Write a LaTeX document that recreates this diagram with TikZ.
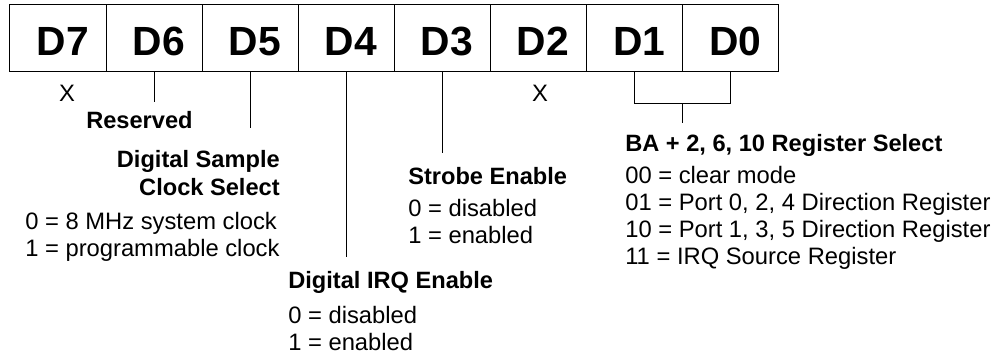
\documentclass[tikz,border=0pt]{standalone}
\usepackage{fontspec}
\setmainfont{Liberation Sans}
\usetikzlibrary{positioning}

\begin{document}
\begin{tikzpicture}[
    x=0.025cm, y=-0.025cm,
    bitcell/.style={rectangle, draw, line width=0.7pt, outer sep=0pt, inner sep=0pt,
                    minimum width=2.4cm, minimum height=1.65cm,
                    text height=24.2pt, text depth=0pt,
                    execute at begin node={\hspace*{7pt}},
                    font=\fontsize{29}{32}\selectfont\bfseries},
    fieldtitle/.style={inner sep=0pt, font=\fontsize{16.8}{19}\selectfont\bfseries},
    fieldvalue/.style={inner sep=0pt, font=\fontsize{16.9}{19}\selectfont},
    leader/.style={line width=0.7pt}
]
    \useasboundingbox (0,0) rectangle (1003,354);

    % register bits
    \node[bitcell] (d7) at (58,38) {D7};
    \node[bitcell, right=0pt of d7] (d6) {D6};
    \node[bitcell, right=0pt of d6] (d5) {D5};
    \node[bitcell, right=0pt of d5] (d4) {D4};
    \node[bitcell, right=0pt of d4] (d3) {D3};
    \node[bitcell, right=0pt of d3] (d2) {D2};
    \node[bitcell, right=0pt of d2] (d1) {D1};
    \node[bitcell, right=0pt of d1] (d0) {D0};

    % leaders
    \draw[leader] (d6.south) -- ++(0,31) coordinate (d6tip);
    \draw[leader] (d5.south) -- ++(0,57) coordinate (d5tip);
    \draw[leader] (d4.south) -- ++(0,186) coordinate (d4tip);
    \draw[leader] (d3.south) -- ++(0,82) coordinate (d3tip);
    \path (d1.south) ++(0,32) coordinate (d1low);
    \path (d0.south) ++(0,32) coordinate (d0low);
    \draw[leader] (d1.south) -- (d1low) -- (d0low) -- (d0.south);
    \draw[leader] (d1.south east |- d1low) -- ++(0,20) coordinate (selecttip);

    % unused bits
    \node[fieldvalue, anchor=base] (x7) at (67,102) {X};
    \node[fieldvalue, anchor=base] (x2) at (540,102) {X};

    % D6
    \node[fieldtitle, anchor=base west] (reserved) at (86,129) {Reserved};

    % D5
    \node[fieldtitle, anchor=base east] (sample1) at (280,167) {Digital Sample};
    \node[fieldtitle, anchor=base east] (sample2) at (280,195) {Clock Select};
    \node[fieldvalue, anchor=base west] (sample3) at (25,229) {0 = 8 MHz system clock};
    \node[fieldvalue, anchor=base west] (sample4) at (25,256) {1 = programmable clock};

    % D4
    \node[fieldtitle, anchor=base west] (irq1) at (288,288) {Digital IRQ Enable};
    \node[fieldvalue, anchor=base west] (irq2) at (288,323) {0 = disabled};
    \node[fieldvalue, anchor=base west] (irq3) at (288,350) {1 = enabled};

    % D3
    \node[fieldtitle, anchor=base west] (strobe1) at (408,184) {Strobe Enable};
    \node[fieldvalue, anchor=base west] (strobe2) at (408,216) {0 = disabled};
    \node[fieldvalue, anchor=base west] (strobe3) at (408,243) {1 = enabled};

    % D1, D0
    \node[fieldtitle, anchor=base west] (select1) at (625,152) {BA + 2, 6, 10 Register Select};
    \node[fieldvalue, anchor=base west] (select2) at (625,183) {00 = clear mode};
    \node[fieldvalue, anchor=base west] (select3) at (625,210) {01 = Port 0, 2, 4 Direction Register};
    \node[fieldvalue, anchor=base west] (select4) at (625,237) {10 = Port 1, 3, 5 Direction Register};
    \node[fieldvalue, anchor=base west] (select5) at (625,264) {11 = IRQ Source Register};
\end{tikzpicture}
\end{document}
